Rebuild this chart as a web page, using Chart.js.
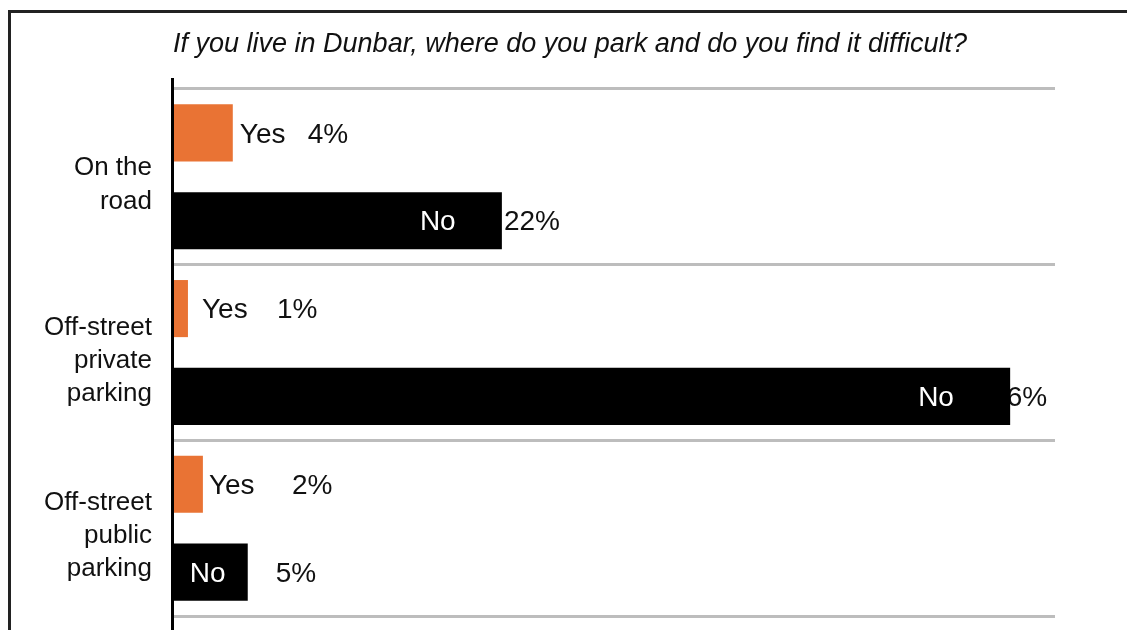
<!DOCTYPE html>
<html>
<head>
<meta charset="utf-8">
<script src="https://cdn.jsdelivr.net/npm/chart.js@4.4.1/dist/chart.umd.min.js"></script>
<style>
  html, body { margin: 0; padding: 0; background: #fff; }
  canvas { display: block; }
</style>
</head>
<body>
<canvas id="parking-chart" width="1127" height="630"></canvas>
<script>
const ctx = document.getElementById('parking-chart').getContext('2d');

const titleText = 'If you live in Dunbar, where do you park and do you find it difficult?';
const categories = [['On the', 'road'], ['Off-street', 'private', 'parking'], ['Off-street', 'public', 'parking']];
const seriesNames = ['Yes', 'No'];
const yesData = [4, 1, 2];
const noData = [22, 56, 5];

const orange = 'rgb(233, 115, 52)';
const textColor = '#111';
const fontFamily = '"Liberation Sans", Arial, sans-serif';
const labelFont = '28px ' + fontFamily;

// hand-tuned label spacing from the bar end, one entry per category
const yesNameGap = [7, 14, 6];
const yesPctGap = [75, 89, 89];
const noNameGap = [-82, -92, -58];
const noPctGap = [2, -19, 28];

function pct(v) {
    return v + '%';
}

// percentages go under the bars, so the long bar hides part of its own
const pctLabels = {
    id: 'pctLabels',
    beforeDatasetsDraw(chart) {
        const c = chart.ctx;
        c.save();
        c.font = labelFont;
        c.fillStyle = textColor;
        c.textBaseline = 'middle';
        c.textAlign = 'left';
        chart.getDatasetMeta(0).data.forEach((bar, i) => {
            c.fillText(pct(yesData[i]), bar.x + yesPctGap[i], bar.y + 2);
        });
        chart.getDatasetMeta(1).data.forEach((bar, i) => {
            c.fillText(pct(noData[i]), bar.x + noPctGap[i], bar.y + 2);
        });
        c.restore();
    }
};

// "Yes" next to the orange bars, "No" in white inside the black ones
const nameLabels = {
    id: 'nameLabels',
    afterDatasetsDraw(chart) {
        const c = chart.ctx;
        c.save();
        c.font = labelFont;
        c.textBaseline = 'middle';
        c.textAlign = 'left';
        c.fillStyle = textColor;
        chart.getDatasetMeta(0).data.forEach((bar, i) => {
            c.fillText(seriesNames[0], bar.x + yesNameGap[i], bar.y + 2);
        });
        c.fillStyle = '#fff';
        chart.getDatasetMeta(1).data.forEach((bar, i) => {
            c.fillText(seriesNames[1], bar.x + noNameGap[i], bar.y + 2);
        });
        c.restore();
    }
};

// title, vertical axis line and the slide frame
const decorations = {
    id: 'decorations',
    afterDraw(chart) {
        const c = chart.ctx;
        const area = chart.chartArea;
        c.save();
        c.fillStyle = '#222';
        c.fillRect(8, 10, chart.width - 8, 3);
        c.fillRect(8, 10, 3, chart.height - 10);

        c.fillStyle = '#000';
        c.fillRect(area.left - 2, area.top - 11, 3, chart.height - area.top + 11);

        c.font = 'italic 27px ' + fontFamily;
        c.fillStyle = textColor;
        c.textAlign = 'center';
        c.textBaseline = 'middle';
        c.fillText(titleText, 570, 44);
        c.restore();
    }
};

const parkingChart = new Chart(ctx, {
    type: 'bar',
    data: {
        labels: categories,
        datasets: [{
            label: seriesNames[0],
            data: yesData,
            backgroundColor: orange,
            barPercentage: 0.65,
            categoryPercentage: 1.0
        }, {
            label: seriesNames[1],
            data: noData,
            backgroundColor: '#000',
            barPercentage: 0.65,
            categoryPercentage: 1.0
        }]
    },
    options: {
        indexAxis: 'y',
        responsive: false,
        animation: false,
        layout: {
            padding: { left: 0, right: 72, top: 89, bottom: 14 }
        },
        scales: {
            x: {
                display: false,
                min: 0,
                max: 59
            },
            y: {
                grid: {
                    color: '#bdbdbd',
                    lineWidth: 3,
                    drawTicks: false,
                    offset: true
                },
                border: { display: false },
                ticks: {
                    color: textColor,
                    padding: 21,
                    labelOffset: 8,
                    font: { family: fontFamily, size: 26, lineHeight: 1.27 }
                },
                afterFit(scale) {
                    scale.width = 173;
                    scale.paddingTop = 0;
                    scale.paddingBottom = 0;
                }
            }
        },
        plugins: {
            legend: { display: false },
            tooltip: { enabled: false },
            title: { display: false }
        }
    },
    plugins: [pctLabels, nameLabels, decorations]
});
</script>
</body>
</html>
